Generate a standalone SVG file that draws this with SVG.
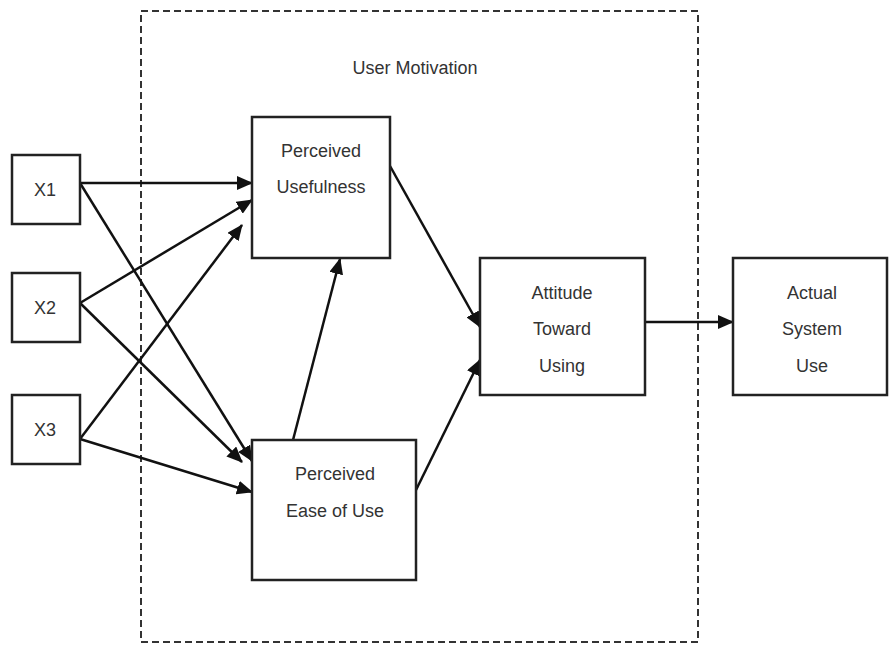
<svg xmlns="http://www.w3.org/2000/svg" width="889" height="647" viewBox="0 0 889 647">
<defs>
<style>
.box{fill:#fff;stroke:#222;stroke-width:2.5}
.lbl{font-family:"Liberation Sans",Arial,sans-serif;font-size:18px;fill:#333;text-anchor:middle}
.edge{stroke:#111;stroke-width:2.5;fill:none;marker-end:url(#arr)}
</style>
<marker id="arr" markerUnits="userSpaceOnUse" markerWidth="16" markerHeight="14" refX="15" refY="7" orient="auto">
<path d="M0,0 L16,7 L0,14 Z" fill="#111"/>
</marker>
</defs>
<rect width="889" height="647" fill="#fff"/>
<g id="user-motivation">
<rect x="141" y="11" width="557" height="631" fill="none" stroke="#333" stroke-width="2" stroke-dasharray="7,4"/>
<text class="lbl" x="415" y="74">User Motivation</text>
</g>
<g id="connectors">
<line class="edge" x1="80" y1="183" x2="252" y2="183"/>
<line class="edge" x1="80" y1="183" x2="252" y2="461"/>
<line class="edge" x1="80" y1="303" x2="252" y2="200"/>
<line class="edge" x1="80" y1="303" x2="242" y2="462"/>
<line class="edge" x1="80" y1="439" x2="242" y2="225"/>
<line class="edge" x1="80" y1="439" x2="252" y2="492"/>
<line class="edge" x1="293" y1="440" x2="340" y2="259"/>
<line class="edge" x1="390" y1="166" x2="480" y2="327"/>
<line class="edge" x1="416" y1="490" x2="480" y2="360"/>
<line class="edge" x1="645" y1="322" x2="733" y2="322"/>
</g>
<g id="x1"><rect class="box" x="12" y="155" width="68" height="69"/><text class="lbl" x="45" y="196">X1</text></g>
<g id="x2"><rect class="box" x="12" y="273" width="68" height="69"/><text class="lbl" x="45" y="314">X2</text></g>
<g id="x3"><rect class="box" x="12" y="395" width="68" height="69"/><text class="lbl" x="45" y="436">X3</text></g>
<g id="perceived-usefulness"><rect class="box" x="252" y="117" width="138" height="141"/><text class="lbl" x="321" y="157">Perceived</text><text class="lbl" x="321" y="193">Usefulness</text></g>
<g id="perceived-ease-of-use"><rect class="box" x="252" y="440" width="164" height="140"/><text class="lbl" x="335" y="480">Perceived</text><text class="lbl" x="335" y="517">Ease of Use</text></g>
<g id="attitude-toward-using"><rect class="box" x="480" y="258" width="165" height="137"/><text class="lbl" x="562" y="299">Attitude</text><text class="lbl" x="562" y="335">Toward</text><text class="lbl" x="562" y="372">Using</text></g>
<g id="actual-system-use"><rect class="box" x="733" y="258" width="154" height="137"/><text class="lbl" x="812" y="299">Actual</text><text class="lbl" x="812" y="335">System</text><text class="lbl" x="812" y="372">Use</text></g>
</svg>
